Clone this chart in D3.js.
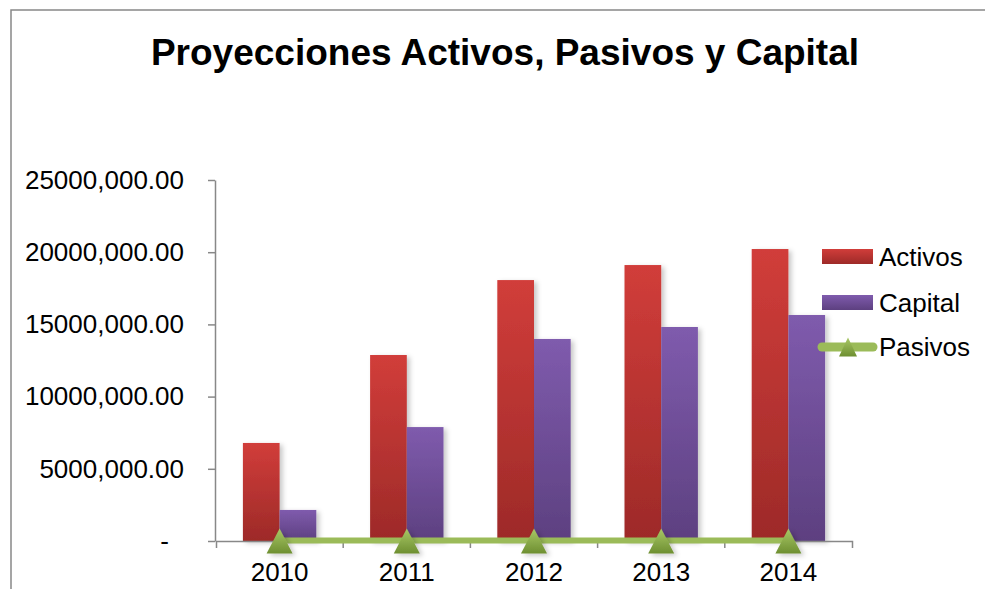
<!DOCTYPE html>
<html>
<head>
<meta charset="utf-8">
<script src="https://cdn.jsdelivr.net/npm/d3@7"></script>
<style>
  body { margin: 0; background: #fff; }
  svg { display: block; font-family: "Liberation Sans", Arial, sans-serif; }
</style>
</head>
<body>
<div id="chart"></div>
<script>
// chart data
var years = ["2010", "2011", "2012", "2013", "2014"];
var activos = [6790000, 12880000, 18070000, 19110000, 20220000];
var capital = [2150000, 7890000, 13990000, 14820000, 15650000];
var pasivos = [0, 0, 0, 0, 0];
var yTicks = [0, 5000000, 10000000, 15000000, 20000000, 25000000];
var seriesNames = ["Activos", "Capital", "Pasivos"];

var width = 985, height = 589;
var plotLeft = 216, plotRight = 852, plotTop = 180, plotBottom = 541;

var svg = d3.select("#chart").append("svg")
  .attr("width", width)
  .attr("height", height);

var defs = svg.append("defs");

function addGradient(id, c1, c2) {
  var g = defs.append("linearGradient")
    .attr("id", id)
    .attr("x1", 0).attr("y1", 0).attr("x2", 0).attr("y2", 1);
  g.append("stop").attr("offset", "0%").attr("stop-color", c1);
  g.append("stop").attr("offset", "100%").attr("stop-color", c2);
}
addGradient("gradRed", "#d13d3a", "#9d2a28");
addGradient("gradPurple", "#7f5bad", "#5d4080");
addGradient("gradGreen", "#a9c866", "#6e8f31");

var shadow = defs.append("filter")
  .attr("id", "shadow")
  .attr("x", "-30%").attr("y", "-30%")
  .attr("width", "160%").attr("height", "160%");
shadow.append("feDropShadow")
  .attr("dx", 3).attr("dy", 2)
  .attr("stdDeviation", 2.5)
  .attr("flood-color", "#000")
  .attr("flood-opacity", 0.22);

// frame
svg.append("path")
  .attr("d", "M11,589V10H985")
  .attr("fill", "none")
  .attr("stroke", "#888")
  .attr("stroke-width", 1.5);

// title
svg.append("text")
  .attr("x", 505)
  .attr("y", 65)
  .attr("text-anchor", "middle")
  .style("font-size", "37px")
  .style("font-weight", "bold")
  .text("Proyecciones Activos, Pasivos y Capital");

// scales
var x = d3.scaleBand().domain(years).range([plotLeft, plotRight]).padding(0);
var y = d3.scaleLinear().domain([0, 25000000]).range([plotBottom, plotTop]);
var barW = x.step() * 0.2885;

// y axis
var yAxis = svg.append("g")
  .attr("transform", "translate(" + (plotLeft - 1) + ",0)")
  .call(d3.axisLeft(y)
    .tickValues(yTicks)
    .tickSize(7)
    .tickSizeOuter(0)
    .tickPadding(24)
    .tickFormat(function(d) {
      return d == 0 ? "-" : (d / 1000) + ",000.00";
    }));
yAxis.selectAll("text")
  .style("font-size", "26px")
  .style("fill", "#000");
yAxis.selectAll(".tick")
  .filter(function(d) { return d == 0; })
  .select("text")
  .attr("dx", -15);
yAxis.selectAll("path, line")
  .attr("stroke", "#888")
  .attr("stroke-width", 1.5);

// bars
var groups = svg.selectAll(".year")
  .data(years)
  .enter().append("g")
  .attr("class", "year");

groups.append("rect")
  .attr("x", function(d) { return x(d) + x.bandwidth() / 2 - barW; })
  .attr("y", function(d, i) { return y(activos[i]); })
  .attr("width", barW)
  .attr("height", function(d, i) { return plotBottom - y(activos[i]); })
  .attr("fill", "url(#gradRed)")
  .attr("filter", "url(#shadow)");

groups.append("rect")
  .attr("x", function(d) { return x(d) + x.bandwidth() / 2; })
  .attr("y", function(d, i) { return y(capital[i]); })
  .attr("width", barW)
  .attr("height", function(d, i) { return plotBottom - y(capital[i]); })
  .attr("fill", "url(#gradPurple)")
  .attr("filter", "url(#shadow)");

// x axis
var xAxis = svg.append("g")
  .attr("transform", "translate(0," + plotBottom + ")")
  .call(d3.axisBottom(x)
    .tickSize(0)
    .tickSizeOuter(7)
    .tickPadding(22));
xAxis.selectAll("text")
  .style("font-size", "26px")
  .style("fill", "#000");
xAxis.selectAll("path")
  .attr("stroke", "#888")
  .attr("stroke-width", 1.5);
xAxis.selectAll(".divider")
  .data(years.slice(1))
  .enter().append("line")
  .attr("class", "divider")
  .attr("x1", function(d) { return x(d); })
  .attr("x2", function(d) { return x(d); })
  .attr("y1", 0)
  .attr("y2", 7)
  .attr("stroke", "#888")
  .attr("stroke-width", 1.5);

// pasivos line
var line = d3.line()
  .x(function(d, i) { return x(years[i]) + x.bandwidth() / 2; })
  .y(function(d) { return y(d) - 0.5; });

svg.append("path")
  .datum(pasivos)
  .attr("d", line)
  .attr("fill", "none")
  .attr("stroke", "#9bbb59")
  .attr("stroke-width", 6);

function triangle(cx, cy, w, h) {
  return "M" + cx + "," + (cy - h / 2) +
    "L" + (cx + w / 2) + "," + (cy + h / 2) +
    "L" + (cx - w / 2) + "," + (cy + h / 2) + "Z";
}

svg.selectAll(".marker")
  .data(pasivos)
  .enter().append("path")
  .attr("class", "marker")
  .attr("d", function(d, i) {
    return triangle(x(years[i]) + x.bandwidth() / 2, y(d), 26, 25);
  })
  .attr("fill", "url(#gradGreen)")
  .attr("filter", "url(#shadow)");

// legend
var legend = svg.append("g");
var rowY = [256.5, 302.5, 347];

legend.append("rect")
  .attr("x", 822).attr("y", rowY[0] - 7.5)
  .attr("width", 51).attr("height", 15)
  .attr("fill", "url(#gradRed)");
legend.append("rect")
  .attr("x", 822).attr("y", rowY[1] - 7.5)
  .attr("width", 51).attr("height", 15)
  .attr("fill", "url(#gradPurple)");
legend.append("line")
  .attr("x1", 822).attr("x2", 873)
  .attr("y1", rowY[2]).attr("y2", rowY[2])
  .attr("stroke", "#9bbb59")
  .attr("stroke-width", 9)
  .attr("stroke-linecap", "round");
legend.append("path")
  .attr("d", triangle(848, rowY[2], 18, 19))
  .attr("fill", "url(#gradGreen)");

legend.selectAll("text")
  .data(seriesNames)
  .enter().append("text")
  .attr("x", 879)
  .attr("y", function(d, i) { return rowY[i]; })
  .attr("dy", "0.36em")
  .style("font-size", "26px")
  .text(function(d) { return d; });
</script>
</body>
</html>
